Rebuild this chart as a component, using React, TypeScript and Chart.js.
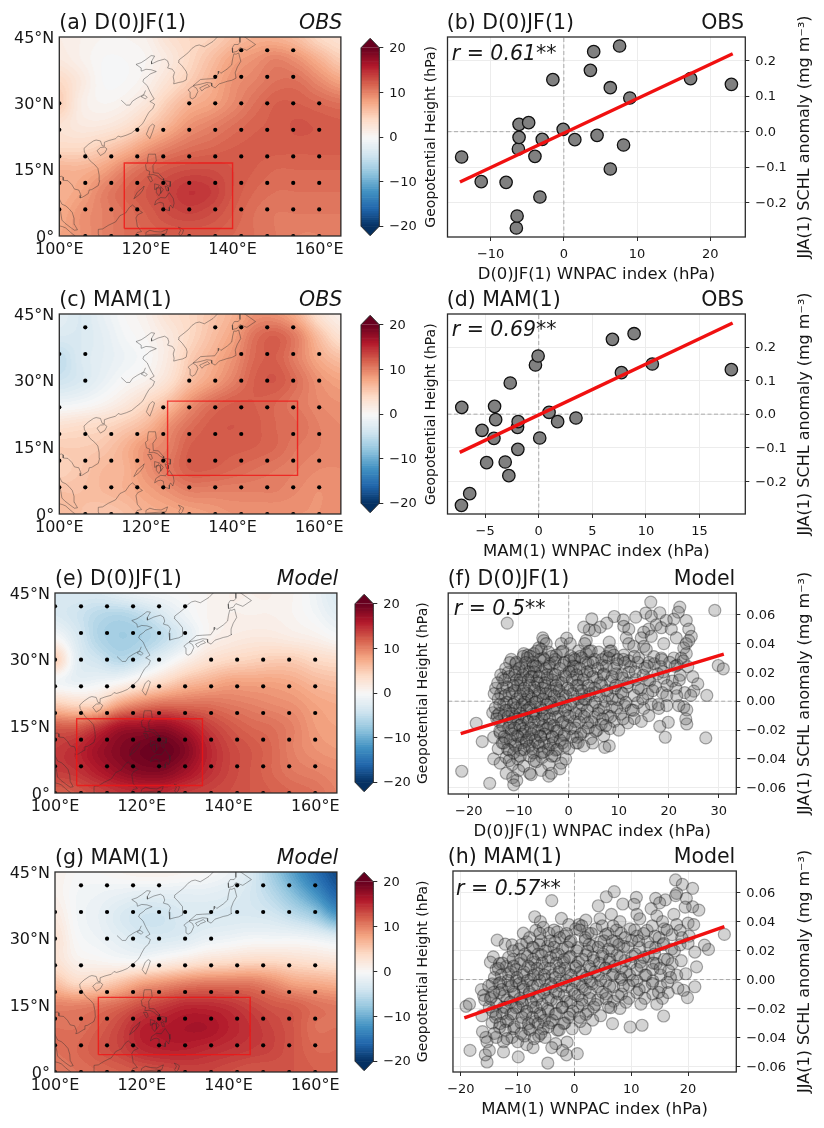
import React, { useEffect, useRef } from "react";
import Chart from "chart.js/auto";

const FONT = "'DejaVu Sans'";
const INK = "#161616";

// ---------- map data: rows run from 45N to 0N, columns from 100E to 165E in 5 degree steps
const mapA = [
  [1.5, 1, 0.5, 0.5, 1, 3, 4, 4.5, 6, 7, 7, 6, 4, 3],
  [2, 1, 0, 0, 0.5, 2, 4, 6, 8, 9, 10, 9, 7, 5],
  [4, 2, 0, 0, 1, 3, 5, 7, 9, 10, 11, 11, 9.5, 8],
  [5, 1.5, 0.5, 1, 2.5, 5, 7, 8, 9.5, 11, 12, 12, 11.5, 11],
  [3, 2, 2, 3, 5, 7, 9, 10, 11, 11.8, 12.2, 12.6, 12.4, 12.2],
  [4, 4, 5, 6.5, 8.5, 10, 11, 11.5, 12, 12.2, 12.2, 12.2, 12.2, 12.2],
  [7, 7, 8, 10, 11.5, 12.5, 13, 13, 12.5, 12, 11.5, 11.5, 11.5, 11.5],
  [7, 8, 10, 11.5, 12.5, 13.5, 14.5, 14, 12.5, 11.5, 11, 11, 11, 11],
  [7.5, 9, 10, 11, 12, 13, 13.5, 13, 12, 11, 10.5, 10.5, 10.5, 10.5],
  [8, 9, 10, 11, 11.5, 12, 12, 12, 11.5, 11, 10.5, 10, 10, 10.5],
];
const mapC = [
  [-2, -3, -1.5, 0, 1, 3, 4, 5.5, 7, 9, 9, 7, 3, 1],
  [-3, -3, -2, -0.5, 0.5, 2, 4, 6, 8, 11, 12, 10, 6, 3],
  [-5, -3, -2, -1, 0, 2, 5, 7, 9, 11.5, 12, 10, 7.5, 6],
  [-4, -3, -1.5, 0, 1, 3, 6, 8, 10, 12, 12.5, 11, 9, 8],
  [-1, -0.5, 0.5, 2, 4, 6, 9, 11, 12, 12, 11.5, 10.5, 9.5, 9],
  [3, 3.5, 4, 5, 6.5, 9, 11, 12.2, 12.5, 12.2, 11.5, 11, 10, 9.5],
  [5, 5, 5.5, 7, 9, 10, 12, 12.2, 12.2, 12, 11.5, 10.5, 10, 9.5],
  [4.5, 5.5, 6.5, 7, 9, 10.5, 12, 12, 11.5, 11, 10.5, 10, 9.5, 9.5],
  [6, 6, 6.5, 7, 8, 9, 10, 10, 10, 10, 10, 9.5, 9, 9.5],
  [6, 6, 5.5, 6, 7, 7.5, 8, 8.5, 9, 9, 9, 9, 9, 9.5],
];
const mapE = [
  [-3, -3, -3, -2, -1, -0.5, 0, 0.5, 1, 1, 1, 0.5, -1, -3],
  [-3, -4, -5.5, -6, -5, -3, -1, 0.5, 1, 1, 1, 0.5, -0.5, -2],
  [0, -3, -6, -7, -6.5, -5, -2.5, 0.5, 1.5, 2, 2, 1.5, 1, 0],
  [5, -2, -4, -5.5, -4, -1.5, 1, 3, 4, 4.5, 5, 5, 4, 3.5],
  [-0.5, -1.5, -1, 0, 2, 4, 6, 7, 8, 8, 8, 7.5, 6.5, 6],
  [5, 4, 4.5, 8, 10, 11, 11, 11, 10.5, 10, 9.5, 9, 8, 7.5],
  [12, 12, 14, 16.5, 17, 17.5, 16, 14, 12.5, 11.5, 11, 10, 8.5, 8],
  [14, 15, 17, 18.5, 19.5, 20, 18.5, 15.5, 13.5, 12.5, 11.5, 10, 9, 8.5],
  [14, 14.5, 16, 17.5, 18.5, 18.5, 17, 15, 13.5, 12.5, 11.5, 10.5, 10, 9.5],
  [12, 12.5, 13.5, 14.5, 15, 15, 14, 13.5, 13, 12.5, 12, 11.5, 11, 10],
];
const mapG = [
  [1, 0, 0, 0.5, 1, 1, 0.5, 0, -1, -3, -7, -11, -15, -18],
  [1, -0.5, -1, -1.5, -2, -2, -2, -2, -2.5, -3.5, -5.5, -8.5, -12, -16],
  [2, -0.5, -1.5, -3, -4, -4, -3, -3, -3, -3, -3.5, -5, -7, -11],
  [3, 0, -1, -2, -3, -3, -2.5, -1.5, -1, -0.5, -0.5, -0.5, -1, -2],
  [3, 1, 0.5, 0, 0, 1, 2, 3, 3.5, 4, 4, 3.5, 3, 2.5],
  [6, 4, 4.5, 6, 8, 9, 10, 10.5, 10.5, 10.5, 9.5, 8, 7.5, 7],
  [10, 10, 10.5, 11.5, 13, 14, 15, 15, 14.5, 13.5, 12.5, 12, 11, 10.5],
  [11, 11, 12, 13.5, 15.5, 16, 16.5, 16.5, 15.5, 14.5, 13.5, 12.5, 11, 11],
  [11, 11.5, 12.5, 13.5, 15, 15.5, 15.5, 15, 14.5, 14, 13.5, 12.5, 11.5, 11.5],
  [10.5, 11, 11.5, 12, 12.5, 13, 13.5, 13.5, 13, 12.5, 12.5, 12.5, 12, 11.5],
];

// ---------- stippling: longitudes per latitude
const allLons = [100, 106, 112, 118, 124, 130, 136, 142, 148, 154, 160];
const dotsA: [number, number[]][] = [
  [42, [142, 148, 154]],
  [36, [136, 142, 148, 154]],
  [30, [100, 130, 136, 142, 148, 154, 160]],
  [24, [100, 118, 124, 130, 136, 142, 148, 154, 160]],
  [18, allLons],
  [12, allLons],
  [6, allLons],
  [0, [106, 112, 118, 124, 130, 136, 142, 148, 154, 160]],
];
const dotsC: [number, number[]][] = [
  [42, [106, 136, 142, 148, 154]],
  [36, [100, 106, 142, 148, 154, 160]],
  [30, [106, 130, 136, 142, 148, 154, 160]],
  [24, [100, 124, 130, 136, 142, 148, 154, 160]],
  [18, [100, 106, 112, 118, 124, 130, 136, 142, 154, 160]],
  [12, allLons],
  [6, allLons],
  [0, [106, 112, 118, 124, 130, 136, 142, 148, 154, 160]],
];
const dotsE: [number, number[]][] = [
  [42, [100, 106, 112, 118, 124, 130]],
  [36, [106, 112, 118, 124, 130]],
  [30, [100, 106, 112, 118, 124, 136, 142, 148, 154, 160]],
  [24, allLons],
  [18, allLons],
  [12, allLons],
  [6, allLons],
  [0, allLons],
];
const dotsG: [number, number[]][] = [
  [42, [106, 112, 118, 124, 142, 148, 154, 160]],
  [36, allLons],
  [30, [100, 112, 118, 124, 130, 136]],
  [24, [100, 106, 118, 124, 130, 136, 142, 148, 154, 160]],
  [18, allLons],
  [12, allLons],
  [6, allLons],
  [0, allLons],
];

// ---------- index boxes: lon0, lon1, lat0, lat1
const boxA = [115, 140, 1.7, 16.5];
const boxC = [125, 155, 8.7, 25.4];
const boxE = [105, 134, 1.7, 16.7];
const boxG = [110, 145, 3.9, 16.8];

// ---------- coastlines (lon, lat)
const coasts: number[][][] = [
  [[100, 5.9], [100.3, 5.4], [100.6, 3.6], [101.3, 2.9], [102.5, 2], [103.5, 1.3], [104.2, 1.4], [103.5, 2.6], [103.4, 4], [103, 5.3], [102.2, 6.2], [101.5, 6.8], [100.6, 7.2], [100, 8.4], [99.6, 10]],
  [[100, 13.4], [100.5, 13.5], [100.9, 13.3], [100.9, 12.6], [102, 12.5], [102.9, 11.6], [103.5, 10.6], [104.5, 10.4], [105, 9.2], [104.8, 8.6], [105.4, 8.8], [106.7, 9.6], [106.9, 10.4], [107.5, 10.5], [109, 11.4], [109.3, 12.5], [109.2, 13.8], [108.9, 15.3], [108.2, 16.1], [107.1, 17], [106.4, 18], [105.8, 19], [105.7, 19.8], [106.7, 20.7], [107.9, 21.5], [108.5, 21.7], [109.5, 21.5], [109.9, 20.4], [110.4, 20.3], [110.4, 21.2], [111.5, 21.6], [113, 22], [113.6, 22.6], [114.2, 22.4], [115.5, 22.8], [116.7, 23.3], [117.8, 24.2], [118.6, 24.8], [119.2, 25.4], [119.6, 26], [120, 26.8], [120.7, 28], [121.6, 28.8], [122, 29.8], [121.2, 30.3], [120.9, 30.4], [121.9, 31], [121.4, 31.8], [120.9, 32.7], [120.3, 34], [119.3, 34.9], [119.5, 35.5], [120.4, 36.1], [120.9, 36.6], [122.4, 37.2], [121.2, 37.6], [120, 37.7], [119, 37.3], [118.9, 38], [117.7, 38.8], [118.9, 39.2], [120, 39.9], [121.2, 40.8], [122, 40.7], [121.3, 39.5], [121.3, 38.9], [122.8, 39.6], [124.3, 40], [125, 39.6], [125.3, 38.7], [125, 38], [126.1, 37.7], [126.6, 37], [126.3, 36], [126.5, 35], [126.4, 34.4], [127.5, 34.7], [128.5, 34.9], [129.3, 35.3], [129.5, 36.5], [129.3, 37.2], [128.4, 38.4], [127.5, 39.3], [127.6, 39.8], [128.8, 40.7], [129.8, 41.5], [130.6, 42.4], [131.5, 43], [132.3, 43.2], [133.5, 42.8], [135.5, 44], [136.5, 45]],
  [[114.3, 30.7], [115.5, 29.6], [116.3, 29.6], [116.9, 30.5], [118, 31.2], [119.5, 32], [119.9, 32.9]],
  [[118.9, 31.5], [119.6, 31.9], [120.3, 31.4], [119.9, 31], [118.9, 31.5]],
  [[108.7, 19.3], [109.5, 18.2], [110.5, 18.8], [111, 19.7], [110.5, 20.1], [109.5, 20], [108.7, 19.3]],
  [[120.1, 23], [120.9, 22], [121.5, 23.5], [122, 25], [121.5, 25.3], [120.8, 24.7], [120.1, 23]],
  [[120.6, 18.5], [122.2, 18.5], [122.4, 17], [121.6, 15.9], [121.7, 14.3], [122.9, 14.2], [124, 13], [124.1, 12.6], [123.3, 13], [122.6, 13.6], [121.7, 13.9], [120.7, 13.8], [120.9, 14.6], [120.1, 14.9], [119.9, 16.1], [120.4, 16.6], [120.4, 17.5], [120.6, 18.5]],
  [[124.3, 12.5], [125.7, 12.3], [125.6, 11.2], [124.9, 11.4], [124.3, 12.5]],
  [[124.4, 11.3], [125.1, 11], [125.2, 10.2], [124.8, 10.2], [124.4, 11.3]],
  [[122.4, 10.9], [123.2, 10.9], [123.5, 10], [123, 9.1], [122.4, 9.8], [122.4, 10.9]],
  [[122, 11.8], [123.1, 11.5], [122.6, 10.7], [122, 10.5], [122, 11.8]],
  [[123.4, 11.2], [124, 10.5], [123.4, 9.6], [123.4, 11.2]],
  [[120.4, 13.4], [121.2, 13.4], [121.5, 12.5], [121.1, 12.2], [120.4, 13.4]],
  [[117.2, 8.4], [118.5, 9.4], [119.3, 10.4], [119.6, 11.3], [119.2, 10.9], [118, 9.9], [117.2, 8.4]],
  [[122, 7], [122.3, 8], [123.4, 8.7], [124.5, 8.6], [125.4, 9.8], [126.3, 8.5], [126.5, 7.4], [126.2, 6.3], [125.7, 7], [125.4, 6.5], [125.4, 5.7], [124.2, 6.1], [124, 7.4], [123.4, 7.6], [122.8, 7.5], [122, 7]],
  [[109.2, 0], [109, 0.5], [109, 1.5], [110, 1.6], [111.3, 2.4], [113, 3.2], [114, 4.6], [115.3, 5.2], [116.2, 6.5], [116.9, 7], [117.7, 6.3], [119.2, 5.3], [118.1, 4.8], [117.7, 4.1], [117.9, 3], [118, 2.2], [119, 1], [118, 0.8], [117.5, 0]],
  [[100, 2.3], [100.8, 2.1], [101.5, 1.8], [102.4, 1], [103, 0.5], [103.7, 0]],
  [[119.8, 0], [120, 0.8], [120.9, 1.3], [122, 1], [123.5, 0.9], [125, 1.6], [124.6, 0.5], [123, 0.4], [120.2, 0.2]],
  [[127.5, 2], [128, 1.3], [127.6, 0.5], [127.9, 0], [128.4, 0.5], [128.7, 1.4], [128, 1.8], [127.5, 2]],
  [[130.9, 34], [132.5, 34.3], [134, 34.7], [135.1, 34.6], [135.2, 33.9], [136, 33.5], [136.9, 34.4], [137.9, 34.7], [138.8, 35], [139.8, 35.2], [140.8, 35.7], [140.6, 36.9], [141.1, 38.2], [141.9, 39.5], [141.4, 41.4], [140.8, 41.1], [140.3, 41.2], [140, 40], [139.8, 38.7], [138.8, 37.8], [137.3, 36.8], [136.8, 37.3], [136.7, 36.7], [135.9, 35.6], [134, 35.5], [132.6, 35.4], [131.4, 34.4], [130.9, 34]],
  [[130.9, 33.9], [131.7, 33.4], [132, 32.7], [131.4, 31.4], [130.7, 31], [130.2, 31.3], [130.2, 32.6], [129.7, 33], [130.4, 33.6], [130.9, 33.9]],
  [[132.4, 33.5], [134.2, 34.3], [134.7, 33.8], [133.6, 33.4], [132.9, 32.8], [132.4, 33.5]],
  [[140, 41.5], [141.1, 41.8], [141.7, 42.6], [143.3, 42], [145.3, 43.3], [144.3, 44], [142.8, 45], [141.7, 45.5], [141.7, 43.8], [141.3, 43.3], [140.4, 43.3], [139.9, 42.5], [140, 41.5]],
];

// ---------- scatter data
const pointsB = [[-13.97, -0.0714], [-11.29, -0.1408], [-7.89, -0.1427], [-6.49, -0.2713], [-6.39, -0.2376], [-3.27, -0.184], [-6.21, -0.0488], [-3.95, -0.0695], [-6.12, -0.016], [-6.12, 0.0207], [-4.81, 0.0254], [-2.95, -0.0216], [-0.09, 0.0066], [1.5, -0.0225], [-1.5, 0.1465], [3.63, 0.1728], [4.08, 0.2254], [7.62, 0.2413], [6.35, 0.1239], [9.02, 0.0948], [4.54, -0.0103], [8.16, -0.0376], [6.35, -0.1052], [17.32, 0.1493], [22.9, 0.1333]];
const pointsD = [[-7.18, 0.0203], [-7.21, -0.2715], [-6.44, -0.2367], [-4.86, -0.1444], [-5.29, -0.0481], [-4.18, -0.072], [-4.12, 0.0233], [-4.02, -0.0164], [-3.13, -0.1424], [-2.79, -0.1831], [-2.66, 0.0928], [-1.95, -0.1047], [-1.98, -0.0392], [-1.92, -0.0223], [-0.31, 0.1464], [-0.06, 0.1732], [0.09, -0.071], [0.96, 0.0055], [1.76, -0.0223], [3.47, -0.0114], [6.87, 0.2228], [8.89, 0.2397], [7.71, 0.1236], [10.59, 0.1494], [17.96, 0.1325]];
const pointsF = [
  [-21.4, -0.0486], [-15.8, -0.057], [-18.5, -0.0153], [-17.3, -0.028], [-12.3, 0.0542], [29.2, 0.063], [27.4, -0.0255], [27.6, 0.004], [29.9, 0.0248], [30.9, 0.0225], [19.3, -0.025], [19.9, -0.0146], [18.2, -0.0174], [23.6, -0.0158], [23.4, -0.0123], [16.4, 0.0688], [22.2, 0.0653], [21.9, 0.0618], [18.2, 0.0614], [15.4, 0.0612], [13.4, 0.0584], [10.9, 0.0565], [9.1, 0.0588], [7.6, 0.0542], [6.3, 0.0514], [4.6, 0.0572], [4.1, 0.0496], [3, 0.0514], [8.1, 0.041], [3.5, 0.0422], [-0.4, 0.0438], [-5.2, 0.044],
  [5.2, 0.049], [11, 0.052], [12, 0.05], [16, 0.05], [17.5, 0.053], [18.5, 0.051], [20.5, 0.05], [21, 0.057], [23.5, 0.056], [24, 0.05], [24.5, 0.045], [15, 0.048], [16.5, 0.059], [19.5, 0.056],
  [-5, 0.042], [-4.5, 0.04], [-1.5, 0.04], [0.3, 0.04], [3.2, 0.04], [11.5, 0.044], [12, 0.04], [13, 0.038], [14.5, 0.044], [15, 0.038], [16.5, 0.045], [15.5, 0.036], [19, 0.04], [21.5, 0.044], [23.5, 0.04], [23, 0.037], [24, 0.042], [-6, 0.037],
  [-11.5, 0.029], [-10.5, 0.027], [-9, 0.033], [-8.2, 0.032], [-7, 0.033], [-5.5, 0.036], [-4, 0.034], [-2.5, 0.032], [-1.5, 0.034], [1, 0.03], [2, 0.035], [3.5, 0.033], [4.5, 0.035], [6, 0.034], [7.5, 0.031], [8.5, 0.035], [9, 0.032], [11, 0.032], [12, 0.028], [14, 0.03], [16, 0.027], [17, 0.031], [18.5, 0.03], [21, 0.03], [22.5, 0.03], [23.5, 0.033],
  [-10.6, 0.026], [-9.4, 0.024], [-8.3, 0.03], [-7.2, 0.027], [-6.1, 0.024], [-5.1, 0.03], [-3.8, 0.026], [-2.7, 0.029], [-1.2, 0.025], [0.1, 0.028], [1.4, 0.024], [2.6, 0.03], [3.9, 0.026], [5.2, 0.029], [6.7, 0.025], [8, 0.03], [9.6, 0.026], [10.9, 0.029], [12.4, 0.024], [13.8, 0.027], [15.2, 0.023], [17.1, 0.026], [18.4, 0.024], [20.2, 0.027], [21.7, 0.025], [22.9, 0.028], [23.8, 0.024],
  [-13.2, 0.016], [-12.1, 0.02], [-10.8, 0.018], [-9.7, 0.015], [-8.7, 0.021], [-7.6, 0.017], [-6.4, 0.014], [-5.4, 0.02], [-4.3, 0.016], [-3.2, 0.019], [-2.1, 0.014], [-0.8, 0.018], [0.6, 0.021], [1.9, 0.015], [3.1, 0.018], [4.3, 0.021], [5.6, 0.016], [7, 0.019], [8.3, 0.014], [9.5, 0.019], [10.8, 0.016], [12, 0.02], [13.4, 0.015], [14.9, 0.018], [16.2, 0.014], [17.8, 0.019], [19, 0.016], [20.7, 0.014], [22.3, 0.018], [24.8, 0.017], [25.8, 0.012],
  [-14.6, 0.009], [-13.6, 0.005], [-12.4, 0.01], [-11.3, 0.006], [-10.2, 0.011], [-9.1, 0.007], [-8, 0.004], [-6.9, 0.01], [-5.8, 0.006], [-4.7, 0.011], [-3.5, 0.005], [-2.4, 0.009], [-1.1, 0.004], [0.2, 0.008], [1.5, 0.011], [2.7, 0.005], [4, 0.009], [5.3, 0.006], [6.6, 0.011], [7.8, 0.004], [9.2, 0.009], [10.5, 0.006], [11.7, 0.01], [13.1, 0.004], [14.4, 0.008], [15.8, 0.005], [17.3, 0.01], [18.7, 0.006], [19.6, 0.004], [21.4, 0.009], [23.2, 0.006], [25, 0.007], [24.4, 0.004],
  [-15.2, -0.008], [-14.3, -0.01], [-13, -0.002], [-12, -0.006], [-10.9, -0.001], [-9.8, -0.005], [-8.7, 0.001], [-7.6, -0.004], [-6.4, 0], [-5.3, -0.006], [-4.1, -0.001], [-3, -0.005], [-1.8, 0.001], [-0.5, -0.004], [0.9, 0], [2.1, -0.005], [3.4, 0.001], [4.7, -0.003], [6, -0.006], [7.3, 0], [8.6, -0.004], [9.9, 0.001], [11.2, -0.003], [12.5, -0.006], [13.8, -0.001], [15, -0.005], [16.5, -0.002], [18, -0.005], [19.6, -0.003], [22, -0.003], [23, -0.004], [23.6, -0.006],
  [-14, -0.014], [-12.9, -0.01], [-11.8, -0.015], [-10.7, -0.011], [-9.5, -0.016], [-8.4, -0.012], [-7.2, -0.009], [-6.1, -0.014], [-5, -0.01], [-3.8, -0.016], [-2.7, -0.011], [-1.4, -0.015], [-0.2, -0.01], [1.2, -0.014], [2.5, -0.009], [3.8, -0.015], [5.1, -0.011], [6.5, -0.016], [7.8, -0.01], [9.1, -0.014], [10.4, -0.009], [11.8, -0.015], [13.1, -0.012], [14.5, -0.014], [16, -0.01],
  [-15, -0.025], [-13.7, -0.022], [-12.6, -0.026], [-11.4, -0.02], [-10.3, -0.024], [-9.2, -0.019], [-8, -0.025], [-6.9, -0.02], [-5.7, -0.024], [-4.5, -0.019], [-3.3, -0.025], [-2.1, -0.02], [-0.9, -0.024], [0.4, -0.019], [1.7, -0.025], [3, -0.021], [4.4, -0.026], [5.7, -0.02], [7, -0.024], [8.2, -0.019], [10, -0.02],
  [-14.1, -0.033], [-13, -0.029], [-11.9, -0.034], [-10.8, -0.03], [-9.6, -0.034], [-8.5, -0.028], [-7.3, -0.033], [-6.2, -0.029], [-5, -0.035], [-3.8, -0.03], [-2.6, -0.034], [-1.3, -0.029], [0, -0.033], [1.5, -0.029], [3, -0.031], [4.8, -0.029], [7.2, -0.032], [8.1, -0.031],
  [-15, -0.04], [-13.7, -0.043], [-12.5, -0.039], [-11.3, -0.044], [-10.2, -0.04], [-9, -0.045], [-7.8, -0.038], [-6.5, -0.042], [-5.3, -0.039], [-4, -0.044], [-2.8, -0.038], [-1.5, -0.043], [-0.6, -0.04],
  [-12.5, -0.05], [-11.2, -0.053], [-10.4, -0.055], [-11, -0.058], [-10, -0.048], [-7.5, -0.051], [-7.8, -0.05], [-5.5, -0.048], [-4, -0.052], [-3.5, -0.05], [-1.8, -0.047],
];
// dense core of panel (f), listed as [y, x values]
const coreF: [number, number[]][] = [
  [0.0347, [-6.4, -1.2, 4.1, 8.2]],
  [0.0311, [-9.1, -7.7, -3.4, 0.4, 2.3, 13.1]],
  [0.0289, [-5.8, -4.9, 1.2, 6.6, 9.8, 18.6]],
  [0.0268, [-11.8, -8.6, -2.8, -0.9, 3.4, 4.9, 11.2]],
  [0.0243, [-7.1, -6.6, -3.9, 0.9, 7.5, 15.7, 21.3]],
  [0.0227, [-12.6, -9.9, -4.6, -1.8, 2.2, 5.8, 9.1]],
  [0.0204, [-10.7, -7.9, -6.9, 0.1, 3.7, 13.3, 18.9]],
  [0.0183, [-13.6, -9.2, -4.3, -2.7, 1.6, 6.9, 10.6]],
  [0.0171, [-11.9, -7.3, -5.9, -0.6, 4.8, 8.7]],
  [0.0148, [-12.8, -10.4, -8.1, -3.3, 0.7, 2.9, 15.9, 22.1]],
  [0.0127, [-14.2, -9.6, -6.2, -4.8, -1.4, 6.3, 11.8]],
  [0.0109, [-11.1, -7.8, -2.6, 1.8, 3.9, 9.4, 19.7]],
  [0.0091, [-13.2, -8.9, -5.2, -0.2, 5.2, 13.9]],
  [0.0073, [-10.8, -6.8, -3.7, -1.9, 2.6, 7.6, 16.8]],
  [0.0052, [-14.9, -11.9, -8.3, -4.6, 0.8, 4.2, 10.8]],
  [0.0038, [-12.7, -9.7, -6.1, -2.9, -0.6, 6.1, 21.6]],
  [0.0016, [-14.1, -10.3, -7.4, -5.1, 1.9, 3.1, 8.7, 14.8]],
  [-0.0008, [-12.4, -8.8, -6.7, -3.6, -1.5, 5.3, 11.4]],
  [-0.0024, [-13.8, -11.1, -9.3, -4.4, 0.3, 2.7, 17.9]],
  [-0.0047, [-14.7, -10.6, -7.9, -5.6, -2.3, 7, 9.6]],
  [-0.0063, [-12.6, -8.4, -3.2, -0.7, 3.7, 12.9]],
  [-0.0086, [-13.9, -11.3, -9.7, -6.6, -4.7, 1.4, 5.9]],
  [-0.0107, [-12.1, -8.9, -7.1, -2.1, 0.2, 3.1, 8.4]],
  [-0.0122, [-14.4, -10.2, -5.4, -3.8, 6.8, 10.9]],
  [-0.0143, [-11.6, -8.1, -6.9, -1.2, 2.1, 4.6]],
  [-0.0169, [-13.2, -9.8, -5.1, -3, -0.3, 7.4]],
  [-0.0186, [-12, -10.8, -7.6, -4.2, 1.3, 3.9]],
  [-0.0207, [-13.8, -8.7, -6.1, -2.4, 5.4]],
  [-0.0228, [-11.2, -9.3, -7.4, -4.8, -0.9, 2.4]],
  [-0.0246, [-12.9, -10.1, -5.6, -3.3, 0.8]],
  [-0.0271, [-11.7, -8.4, -6.7, -1.7]],
  [-0.0289, [-13.3, -9.4, -4.9, -3.1, 1.9]],
  [-0.0312, [-10.6, -7.9, -5.9, -0.8]],
  [-0.0334, [-12.2, -8.9, -4.1, -2.3]],
  [-0.0358, [-11, -7.1, -5.3]],
  [-0.0381, [-9.7, -3.4]],
  [-0.0412, [-11.9, -6.9]],
];
const pointsH = [
  [-18.4, -0.049], [-19.1, -0.0185], [-18.5, -0.017], [-15.4, -0.057], [-4.7, -0.0577], [0.5, -0.0512], [-9.9, -0.0535], [-4, 0.0545], [-7, 0.0434], [-2.3, 0.0422], [-13.6, 0.0272], [-12.2, 0.0245], [-14.3, 0.0157], [4.2, 0.051], [5.6, 0.0572], [7, 0.0607], [8.5, 0.0522], [10.9, 0.0568], [10.5, 0.052], [14.3, 0.0561], [17.8, 0.0688], [19, 0.0658], [20.8, 0.063], [18, 0.0595], [19.7, 0.0561], [21.9, 0.048], [20.8, 0.0503], [26.4, 0.0312], [23.6, 0.0208], [22.9, 0.0238], [21.5, 0.0088], [21.2, -0.005], [19.9, -0.0125], [19.2, -0.0074], [15.7, -0.0252], [11.9, -0.0316], [9.8, -0.0328], [6.7, -0.0305], [1.9, -0.034], [-1.3, -0.0432], [-2.1, -0.049], [-3.3, -0.0443],
  [-6, 0.04], [-5.5, 0.036], [-1, 0.038], [0.8, 0.038], [2, 0.041], [4.5, 0.042], [6.5, 0.045], [8, 0.04], [11, 0.045], [11.5, 0.042], [13.5, 0.049], [14.5, 0.044], [15.5, 0.04], [17.5, 0.045], [18, 0.038], [20, 0.039], [21, 0.038], [16, 0.055], [15, 0.053], [19.5, 0.05], [17.8, 0.058],
  [-9, 0.032], [-6.8, 0.034], [-4.5, 0.032], [-3, 0.033], [-1.8, 0.03], [0.2, 0.035], [2.4, 0.032], [3.8, 0.035], [5.5, 0.031], [6.8, 0.037], [8.2, 0.032], [9.8, 0.035], [11, 0.03], [12.8, 0.034], [14.2, 0.03], [15.8, 0.035], [17.2, 0.031], [18.6, 0.034], [20.2, 0.03],
  [-11, 0.024], [-9.8, 0.021], [-8.4, 0.026], [-7.2, 0.022], [-5.9, 0.027], [-4.7, 0.023], [-3.4, 0.026], [-2.1, 0.021], [-0.8, 0.026], [0.6, 0.022], [1.9, 0.027], [3.2, 0.023], [4.6, 0.026], [6, 0.021], [7.4, 0.026], [8.7, 0.023], [10.1, 0.027], [11.5, 0.022], [12.9, 0.026], [14.3, 0.022], [15.7, 0.025], [17.1, 0.021], [18.6, 0.024], [20, 0.025], [21.2, 0.019],
  [-14.8, 0.012], [-13.2, 0.011], [-12, 0.009], [-10.8, 0.014], [-9.6, 0.011], [-8.3, 0.016], [-7, 0.012], [-5.8, 0.017], [-4.6, 0.013], [-3.2, 0.017], [-2, 0.012], [-0.7, 0.016], [0.7, 0.012], [2, 0.017], [3.4, 0.013], [4.8, 0.016], [6.1, 0.012], [7.5, 0.017], [8.9, 0.013], [10.2, 0.016], [11.6, 0.012], [13, 0.016], [14.4, 0.011], [15.8, 0.014], [17.2, 0.011], [18.8, 0.013],
  [-13.8, 0.007], [-11.6, 0.004], [-10.3, 0.007], [-9, 0.003], [-7.7, 0.008], [-6.4, 0.004], [-5.2, 0.008], [-3.9, 0.003], [-2.6, 0.008], [-1.2, 0.004], [0.1, 0.008], [1.4, 0.003], [2.8, 0.007], [4.2, 0.003], [5.5, 0.008], [6.9, 0.004], [8.3, 0.008], [9.7, 0.003], [11, 0.007], [12.4, 0.003], [13.8, 0.007], [15.2, 0.003], [16.6, 0.006], [18, 0.003], [19.6, 0.004],
  [-14.5, -0.003], [-13, -0.002], [-11.6, -0.005], [-10.3, -0.001], [-9, -0.005], [-7.7, 0], [-6.5, -0.004], [-5.2, 0], [-3.9, -0.005], [-2.6, -0.001], [-1.3, -0.005], [0, -0.001], [1.4, -0.005], [2.8, -0.001], [4.1, -0.005], [5.5, -0.001], [6.9, -0.005], [8.3, 0], [9.6, -0.004], [11, -0.001], [12.4, -0.005], [13.8, -0.001], [15.2, -0.005], [16.4, -0.002], [18.2, -0.006],
  [-16.4, -0.007], [-16, -0.011], [-15.8, -0.014], [-14.6, -0.012], [-13.2, -0.009], [-11.9, -0.014], [-10.6, -0.01], [-9.3, -0.015], [-8, -0.01], [-6.7, -0.014], [-5.4, -0.009], [-4.1, -0.014], [-2.8, -0.01], [-1.4, -0.015], [0, -0.01], [1.3, -0.014], [2.7, -0.009], [4.1, -0.014], [5.5, -0.01], [6.9, -0.015], [8.3, -0.01], [9.6, -0.013], [11, -0.009], [12.4, -0.013], [13.8, -0.01], [15.5, -0.013], [16.5, -0.009],
  [-16.3, -0.025], [-15, -0.019], [-13.8, -0.024], [-12.5, -0.019], [-11.2, -0.024], [-9.9, -0.019], [-8.6, -0.024], [-7.3, -0.019], [-6, -0.025], [-4.7, -0.02], [-3.4, -0.024], [-2.1, -0.019], [-0.8, -0.024], [0.6, -0.019], [2, -0.024], [3.4, -0.019], [4.6, -0.025], [6, -0.019], [8, -0.02], [11.7, -0.017], [14.5, -0.017],
  [-16.2, -0.036], [-15.6, -0.04], [-14.5, -0.03], [-13.2, -0.033], [-12, -0.029], [-10.7, -0.034], [-9.4, -0.03], [-8.1, -0.034], [-6.9, -0.029], [-5.5, -0.034], [-4.2, -0.03], [-3, -0.035], [-1.7, -0.03], [-0.4, -0.034], [1, -0.029], [3.2, -0.028],
  [-15.4, -0.043], [-15.7, -0.052], [-15, -0.049], [-13.8, -0.04], [-12.5, -0.043], [-11, -0.04], [-10, -0.043], [-8.8, -0.039], [-8.4, -0.045], [-7.3, -0.047], [-6.3, -0.039], [-5.2, -0.04], [-4, -0.047], [-12.5, -0.05], [-1.4, -0.052],
];
// dense core of panel (h), listed as [y, x values]
const coreH: [number, number[]][] = [
  [0.0371, [1.3, 4.9, 13.7]],
  [0.0342, [-3.6, 0.9, 7.4, 10.6, 16.3]],
  [0.0318, [-6.1, -1.4, 3, 5.9, 12.2]],
  [0.0289, [-7.9, -2.6, 1.9, 8.9, 14.9, 18.9]],
  [0.0267, [-4.3, -0.6, 5.2, 6.7, 11.3]],
  [0.0241, [-9.3, -6.2, 2.6, 7.8, 15.6]],
  [0.0223, [-7.4, -3.6, -1.2, 4.2, 9.4, 13.3]],
  [0.0198, [-10.8, -5.1, 0.4, 2.3, 6.6, 17.6]],
  [0.0176, [-8.7, -6.4, -2.9, 5, 10.7, 14.1]],
  [0.0153, [-11.6, -4.2, -0.9, 3.3, 8, 12.2]],
  [0.0139, [-9.4, -7.3, -1.8, 1.4, 6.2, 16.4]],
  [0.0114, [-12.7, -5.7, -3.2, 4.4, 9.9, 13.9]],
  [0.0092, [-10.7, -8.1, 0.3, 2.6, 7.1, 11.7]],
  [0.0077, [-13.4, -6.6, -4.3, -1.7, 5.4, 15.1]],
  [0.0053, [-11.2, -8.9, -2.7, 1.1, 3.6, 9.1]],
  [0.0031, [-12.9, -7.2, -5.3, -0.6, 6.7, 12.6]],
  [0.0014, [-14.1, -10.1, -3.4, 2.1, 8.1, 16.9]],
  [-0.0007, [-11.7, -8.3, -6.1, -1.4, 4.6, 10.3]],
  [-0.0028, [-13.3, -9.7, -4.2, 0.9, 3.1, 13.7]],
  [-0.0046, [-15.1, -11.1, -7.4, -2.3, 6.2, 8.6]],
  [-0.0069, [-12.8, -9, -5.1, -0.4, 1.9, 11.4]],
  [-0.0088, [-14.2, -10.7, -7.9, -3.3, 4.9, 14.8]],
  [-0.0112, [-12.4, -6.2, -1.8, 0.6, 7.7]],
  [-0.0131, [-14.8, -9.6, -4.6, 2.7, 5.6]],
  [-0.0156, [-11.3, -7.6, -3.1, -0.7, 9.1]],
  [-0.0172, [-13.7, -9.1, -5.7, 1.4, 3.7]],
  [-0.0194, [-12.1, -10.3, -6.8, -2.2, 6.4]],
  [-0.0218, [-14.4, -8.4, -4.6, -0.3, 2.4]],
  [-0.0236, [-12.7, -10.8, -6.1, -3.2]],
  [-0.0261, [-13.9, -9.2, -7.4, -1.1, 0.9]],
  [-0.0282, [-11.7, -5.3, -3.9]],
  [-0.0304, [-13.1, -8.1, -6.4, -1.9]],
  [-0.0327, [-10.6, -4.6]],
  [-0.0349, [-12.2, -7.8, -2.7]],
  [-0.0372, [-14.1, -9.4, -5.9]],
  [-0.0408, [-11.9, -7.1]],
];

// ---------- fitted lines: [x0, y0, x1, y1]
const fitB = [-14.2, -0.1418, 23.08, 0.2197];
const fitD = [-7.37, -0.1137, 18.08, 0.2715];
const fitF = [-21.6, -0.0225, 31, 0.0327];
const fitH = [-19.4, -0.0265, 26.4, 0.0365];

const ticksLon = [100, 120, 140, 160];
const ticksLat = [0, 15, 30, 45];
const ticksCbar = [-20, -10, 0, 10, 20];

// ---------- RdBu_r
const RDBU = ["#053061", "#2166ac", "#4393c3", "#92c5de", "#d1e5f0", "#f7f7f7", "#fddbc7", "#f4a582", "#d6604d", "#b2182b", "#67001f"];
const rgb = RDBU.map((h) => [1, 3, 5].map((i) => parseInt(h.slice(i, i + 2), 16)));
function cmap(v: number): number[] {
  const t = Math.min(0.9999, Math.max(0, (v + 20) / 40)) * 10;
  const i = Math.floor(t);
  const f = t - i;
  return [0, 1, 2].map((k) => Math.round(rgb[i][k] * (1 - f) + rgb[i + 1][k] * f));
}
const band = (v: number) => cmap((Math.floor(v * 2) + 0.5) / 2);
const cr = (a: number, b: number, c: number, d: number, t: number) =>
  0.5 * (2 * b + (c - a) * t + (2 * a - 5 * b + 4 * c - d) * t * t + (3 * b - a - 3 * c + d) * t * t * t);
function sample(grid: number[][], lon: number, lat: number) {
  const u = Math.max(0, Math.min(12.9999, (lon - 100) / 5));
  const w = Math.max(0, Math.min(8.9999, (45 - lat) / 5));
  const c = Math.floor(u);
  const r = Math.floor(w);
  const row = (rr: number) => {
    const R = grid[Math.max(0, Math.min(9, rr))];
    const g = (i: number) => R[Math.max(0, Math.min(13, i))];
    return cr(g(c - 1), g(c), g(c + 1), g(c + 2), u - c);
  };
  return cr(row(r - 1), row(r), row(r + 1), row(r + 2), w - r);
}

type Txt = { s: string; x: number; y: number; font: string; align?: CanvasTextAlign; rot?: boolean };
function textPlugin(items: Txt[], ox: number, oy: number) {
  return {
    id: "txt",
    afterDraw(chart: any) {
      const { ctx } = chart;
      ctx.save();
      ctx.fillStyle = INK;
      for (const t of items) {
        ctx.save();
        ctx.font = t.font;
        ctx.translate(t.x - ox, t.y - oy);
        if (t.rot) ctx.rotate(-Math.PI / 2);
        ctx.textAlign = t.align || "left";
        ctx.textBaseline = t.rot ? "middle" : "alphabetic";
        ctx.fillText(t.s, 0, 0);
        ctx.restore();
      }
      ctx.restore();
    },
  };
}
const framePlugin = {
  id: "frame",
  afterDraw(chart: any) {
    const { ctx, chartArea: a } = chart;
    ctx.save();
    ctx.strokeStyle = "#2a2a2a";
    ctx.lineWidth = 1.3;
    ctx.strokeRect(a.left, a.top, a.right - a.left, a.bottom - a.top);
    ctx.restore();
  },
};
function heatPlugin(grid: number[][]) {
  return {
    id: "heat",
    beforeDatasetsDraw(chart: any) {
      const { ctx, scales } = chart;
      const left = scales.x.getPixelForValue(100);
      const right = scales.x.getPixelForValue(165);
      const top = scales.y.getPixelForValue(45);
      const bottom = scales.y.getPixelForValue(0);
      const w = Math.ceil(right - left);
      const h = Math.ceil(bottom - top);
      const off = document.createElement("canvas");
      off.width = w;
      off.height = h;
      const oc = off.getContext("2d")!;
      const img = oc.createImageData(w, h);
      for (let py = 0; py < h; py++) {
        const lat = scales.y.getValueForPixel(top + ((py + 0.5) * (bottom - top)) / h);
        for (let px = 0; px < w; px++) {
          const lon = scales.x.getValueForPixel(left + ((px + 0.5) * (right - left)) / w);
          const c = band(sample(grid, lon, lat));
          const k = (py * w + px) * 4;
          img.data[k] = c[0];
          img.data[k + 1] = c[1];
          img.data[k + 2] = c[2];
          img.data[k + 3] = 255;
        }
      }
      oc.putImageData(img, 0, 0);
      ctx.drawImage(off, left, top, right - left, bottom - top);
    },
  };
}
const colorbarPlugin = {
  id: "cbar",
  beforeDatasetsDraw(chart: any) {
    const { ctx, chartArea: a, scales } = chart;
    const y = scales.y;
    const css = (c: number[]) => `rgb(${c[0]},${c[1]},${c[2]})`;
    for (let v = -20; v < 20; v += 0.5) {
      ctx.fillStyle = css(band(v));
      const yTop = y.getPixelForValue(v + 0.5);
      ctx.fillRect(a.left, yTop, a.right - a.left, y.getPixelForValue(v) - yTop + 0.6);
    }
    const mid = (a.left + a.right) / 2;
    const tri = (base: number, apex: number, col: string) => {
      ctx.fillStyle = col;
      ctx.beginPath();
      ctx.moveTo(a.left, base);
      ctx.lineTo(mid, apex);
      ctx.lineTo(a.right, base);
      ctx.closePath();
      ctx.fill();
    };
    tri(a.top, a.top - 9.5, css(cmap(20)));
    tri(a.bottom, a.bottom + 9.5, css(cmap(-20)));
    ctx.strokeStyle = "#2a2a2a";
    ctx.lineWidth = 1;
    ctx.beginPath();
    ctx.moveTo(a.left, a.top);
    ctx.lineTo(mid, a.top - 9.5);
    ctx.lineTo(a.right, a.top);
    ctx.lineTo(a.right, a.bottom);
    ctx.lineTo(mid, a.bottom + 9.5);
    ctx.lineTo(a.left, a.bottom);
    ctx.closePath();
    ctx.stroke();
  },
};

const pairs = (list: number[][]) => list.map((p) => ({ x: p[0], y: p[1] }));
const unroll = (rows: [number, number[]][]) => rows.flatMap(([y, xs]) => xs.map((x) => [x, y]));
const tickFont = (size: number) => ({ family: FONT, size });

type Plot = { l: number; r: number; t: number; b: number };
type MapSpec = { plot: Plot; grid: number[][]; dots: [number, number[]][]; box: number[]; left: string; right: string };
const mapSpecs: MapSpec[] = [
  { plot: { l: 59.3, r: 342.3, t: 36.7, b: 236 }, grid: mapA, dots: dotsA, box: boxA, left: "(a) D(0)JF(1)", right: "OBS" },
  { plot: { l: 59.3, r: 342.3, t: 314.3, b: 514.3 }, grid: mapC, dots: dotsC, box: boxC, left: "(c) MAM(1)", right: "OBS" },
  { plot: { l: 55, r: 338.3, t: 592.7, b: 792.7 }, grid: mapE, dots: dotsE, box: boxE, left: "(e) D(0)JF(1)", right: "Model" },
  { plot: { l: 55, r: 338.3, t: 871.7, b: 1071.7 }, grid: mapG, dots: dotsG, box: boxG, left: "(g) MAM(1)", right: "Model" },
];
type CbSpec = { l: number; r: number; top: number; bottom: number; end: number; labelX: number };
const cbSpecs: CbSpec[] = [
  { l: 361, r: 379.3, top: 45.7, bottom: 227.3, end: 441, labelX: 431 },
  { l: 361, r: 379.3, top: 323.3, bottom: 505.7, end: 441, labelX: 431 },
  { l: 355, r: 373.3, top: 601.7, bottom: 784, end: 436, labelX: 423.7 },
  { l: 355, r: 373.3, top: 880, bottom: 1062.7, end: 436, labelX: 423.7 },
];
type ScSpec = {
  plot: Plot; pts: number[][]; fit: number[]; xr: number[]; yr: number[]; xt: number[]; yt: number[]; dec: number;
  left: string; right: string; r: string; rx: number; ry: number; xlabel: string; dense: boolean;
};
const scSpecs: ScSpec[] = [
  { plot: { l: 446.3, r: 745.3, t: 36.7, b: 236.7 }, pts: pointsB, fit: fitB, xr: [-15.9, 24.8], yr: [-0.2967, 0.2667], xt: [-10, 0, 10, 20], yt: [-0.2, -0.1, 0, 0.1, 0.2], dec: 1, left: "(b) D(0)JF(1)", right: "OBS", r: "r = 0.61**", rx: 452, ry: 60, xlabel: "D(0)JF(1) WNPAC index (hPa)", dense: false },
  { plot: { l: 446.3, r: 745.3, t: 314.3, b: 514.3 }, pts: pointsD, fit: fitD, xr: [-8.51, 19.26], yr: [-0.2973, 0.2983], xt: [-5, 0, 5, 10, 15], yt: [-0.2, -0.1, 0, 0.1, 0.2], dec: 1, left: "(d) MAM(1)", right: "OBS", r: "r = 0.69**", rx: 452, ry: 336.7, xlabel: "MAM(1) WNPAC index (hPa)", dense: false },
  { plot: { l: 447, r: 736.3, t: 592.7, b: 793.3 }, pts: [...pointsF, ...unroll(coreF)], fit: fitF, xr: [-24.1, 33.5], yr: [-0.0644, 0.0751], xt: [-20, -10, 0, 10, 20, 30], yt: [-0.06, -0.04, -0.02, 0, 0.02, 0.04, 0.06], dec: 2, left: "(f) D(0)JF(1)", right: "Model", r: "r = 0.5**", rx: 453.7, ry: 615, xlabel: "D(0)JF(1) WNPAC index (hPa)", dense: true },
  { plot: { l: 447, r: 736.3, t: 871, b: 1071.7 }, pts: [...pointsH, ...unroll(coreH)], fit: fitH, xr: [-21.4, 28.5], yr: [-0.0639, 0.075], xt: [-20, -10, 0, 10, 20], yt: [-0.06, -0.04, -0.02, 0, 0.02, 0.04, 0.06], dec: 2, left: "(h) MAM(1)", right: "Model", r: "r = 0.57**", rx: 456, ry: 895, xlabel: "MAM(1) WNPAC index (hPa)", dense: true },
];

const TITLE = `20.5px ${FONT}`;
const TITLE_I = `italic 20.5px ${FONT}`;

export default function App() {
  const refs = useRef<(HTMLCanvasElement | null)[]>([]);
  const layouts: { x: number; y: number; w: number; h: number }[] = [];
  mapSpecs.forEach((m) => layouts.push({ x: 0, y: m.plot.t - 36, w: m.plot.r + 6, h: m.plot.b - m.plot.t + 66 }));
  cbSpecs.forEach((c) => layouts.push({ x: c.l - 3, y: c.top - 12, w: c.end - c.l + 3, h: c.bottom - c.top + 24 }));
  scSpecs.forEach((s) => layouts.push({ x: s.plot.l - 6, y: s.plot.t - 36, w: 824 - s.plot.l + 6, h: s.plot.b - s.plot.t + 84 }));

  useEffect(() => {
    const charts: any[] = [];
    const base = { responsive: false, animation: false as const, events: [] as any[], devicePixelRatio: 1 };
    const noPlug = { legend: { display: false }, tooltip: { enabled: false }, title: { display: false } };

    mapSpecs.forEach((m, i) => {
      const L = layouts[i];
      const p = m.plot;
      const dots = m.dots.flatMap(([lat, lons]) => lons.map((lon) => ({ x: lon, y: lat })));
      const [b0, b1, b2, b3] = m.box;
      const texts: Txt[] = [
        { s: m.left, x: p.l, y: p.t - 8, font: TITLE },
        { s: m.right, x: p.r, y: p.t - 8, font: TITLE_I, align: "right" },
      ];
      charts.push(
        new Chart(refs.current[i]!, {
          type: "scatter",
          data: {
            datasets: [
              { data: [{ x: b0, y: b2 }, { x: b1, y: b2 }, { x: b1, y: b3 }, { x: b0, y: b3 }, { x: b0, y: b2 }], showLine: true, pointRadius: 0, borderColor: "rgba(240,20,20,0.8)", borderWidth: 1.4 },
              { data: dots, pointRadius: 2.1, pointBackgroundColor: "#000", pointBorderWidth: 0 },
              ...coasts.map((c) => ({ data: pairs(c), showLine: true, pointRadius: 0, borderColor: "rgba(45,45,45,0.7)", borderWidth: 0.6 })),
            ],
          } as any,
          options: {
            ...base,
            layout: { padding: { top: 36, right: 6, left: 0, bottom: 0 } },
            plugins: noPlug,
            scales: {
              x: {
                type: "linear", min: 100, max: 165,
                afterBuildTicks: (s: any) => { s.ticks = ticksLon.map((value) => ({ value })); },
                afterFit: (s: any) => { s.height = 30; },
                grid: { display: false, drawTicks: false },
                border: { display: false },
                ticks: { autoSkip: false, maxRotation: 0, minRotation: 0, padding: 4, color: INK, font: tickFont(16), callback: (v: any) => `${v}°E` },
              },
              y: {
                type: "linear", min: 0, max: 45,
                afterBuildTicks: (s: any) => { s.ticks = ticksLat.map((value) => ({ value })); },
                afterFit: (s: any) => { s.width = p.l; },
                grid: { display: false, drawTicks: false },
                border: { display: false },
                ticks: { autoSkip: false, padding: 5, labelOffset: 1.5, color: INK, font: tickFont(16), callback: (v: any) => (v === 0 ? "0°" : `${v}°N`) },
              },
            },
          } as any,
          plugins: [heatPlugin(m.grid), framePlugin, textPlugin(texts, L.x, L.y)],
        })
      );
    });

    cbSpecs.forEach((c, j) => {
      const i = mapSpecs.length + j;
      const L = layouts[i];
      const texts: Txt[] = [
        { s: "Geopotential Height (hPa)", x: c.labelX, y: (c.top + c.bottom) / 2, font: `14px ${FONT}`, align: "center", rot: true },
      ];
      charts.push(
        new Chart(refs.current[i]!, {
          type: "scatter",
          data: { datasets: [] },
          options: {
            ...base,
            layout: { padding: { top: 12, bottom: 12, left: 3, right: 0 } },
            plugins: noPlug,
            scales: {
              x: { type: "linear", display: false, min: 0, max: 1 },
              y: {
                type: "linear", position: "right", min: -20, max: 20,
                afterBuildTicks: (s: any) => { s.ticks = ticksCbar.map((value) => ({ value })); },
                afterFit: (s: any) => { s.width = c.end - c.r; },
                grid: { drawOnChartArea: false, tickLength: 4, tickColor: "#2a2a2a", tickWidth: 1 },
                border: { display: false },
                ticks: { autoSkip: false, padding: 6, labelOffset: 0.8, color: INK, font: tickFont(13), callback: (v: any) => String(v).replace("-", "−") },
              },
            },
          } as any,
          plugins: [colorbarPlugin, textPlugin(texts, L.x, L.y)],
        })
      );
    });

    scSpecs.forEach((s, j) => {
      const i = mapSpecs.length + cbSpecs.length + j;
      const L = layouts[i];
      const p = s.plot;
      const texts: Txt[] = [
        { s: s.left, x: p.l + 0.7, y: p.t - 8, font: TITLE },
        { s: s.right, x: p.r - 1, y: p.t - 8, font: TITLE, align: "right" },
        { s: s.r, x: s.rx, y: s.ry, font: TITLE_I },
        { s: "JJA(1) SCHL anomaly (mg m⁻³)", x: 805, y: (p.t + p.b) / 2, font: `16px ${FONT}`, align: "center", rot: true },
      ];
      const pointStyle = s.dense
        ? { pointBackgroundColor: "rgba(85,85,85,0.26)", pointBorderColor: "rgba(20,20,20,0.36)", pointBorderWidth: 1.2, pointRadius: 6 }
        : { pointBackgroundColor: "#808080", pointBorderColor: "#111", pointBorderWidth: 1.3, pointRadius: 6.2 };
      charts.push(
        new Chart(refs.current[i]!, {
          type: "scatter",
          data: {
            datasets: [
              { data: [{ x: s.fit[0], y: s.fit[1] }, { x: s.fit[2], y: s.fit[3] }], showLine: true, pointRadius: 0, borderColor: "#f01010", borderWidth: 3.4 },
              { data: pairs(s.pts), ...pointStyle },
              { data: [{ x: s.xr[0], y: 0 }, { x: s.xr[1], y: 0 }], showLine: true, pointRadius: 0, borderColor: "#aaa", borderWidth: 1, borderDash: [4, 2.5] },
              { data: [{ x: 0, y: s.yr[0] }, { x: 0, y: s.yr[1] }], showLine: true, pointRadius: 0, borderColor: "#aaa", borderWidth: 1, borderDash: [4, 2.5] },
            ],
          } as any,
          options: {
            ...base,
            layout: { padding: { top: 36, left: 6, right: 0, bottom: 0 } },
            plugins: noPlug,
            scales: {
              x: {
                type: "linear", min: s.xr[0], max: s.xr[1],
                afterBuildTicks: (a: any) => { a.ticks = s.xt.map((value) => ({ value })); },
                afterFit: (a: any) => { a.height = 48; },
                title: { display: true, text: s.xlabel, color: INK, font: tickFont(16.5), padding: 0 },
                grid: { color: "#ececec", tickColor: "#2a2a2a", tickLength: 4, lineWidth: 1 },
                border: { display: false },
                ticks: { autoSkip: false, maxRotation: 0, minRotation: 0, padding: 6, color: INK, font: tickFont(13), callback: (v: any) => String(v).replace("-", "−") },
              },
              y: {
                type: "linear", position: "right", min: s.yr[0], max: s.yr[1],
                afterBuildTicks: (a: any) => { a.ticks = s.yt.map((value) => ({ value })); },
                afterFit: (a: any) => { a.width = 824 - p.r; },
                grid: { color: "#ececec", tickColor: "#2a2a2a", tickLength: 4, lineWidth: 1 },
                border: { display: false },
                ticks: { autoSkip: false, padding: 6, labelOffset: 0.8, color: INK, font: tickFont(13), callback: (v: any) => Number(v).toFixed(s.dec).replace("-", "−") },
              },
            },
          } as any,
          plugins: [framePlugin, textPlugin(texts, L.x, L.y)],
        })
      );
    });
    return () => charts.forEach((c) => c.destroy());
  }, []);

  return (
    <div style={{ position: "absolute", left: 0, top: 0, width: 824, height: 1128, overflow: "hidden", background: "#fff" }}>
      {layouts.map((L, i) => (
        <canvas
          key={i}
          ref={(el) => { refs.current[i] = el; }}
          width={Math.round(L.w)}
          height={Math.round(L.h)}
          style={{ position: "absolute", left: L.x, top: L.y, width: Math.round(L.w), height: Math.round(L.h) }}
        />
      ))}
    </div>
  );
}
